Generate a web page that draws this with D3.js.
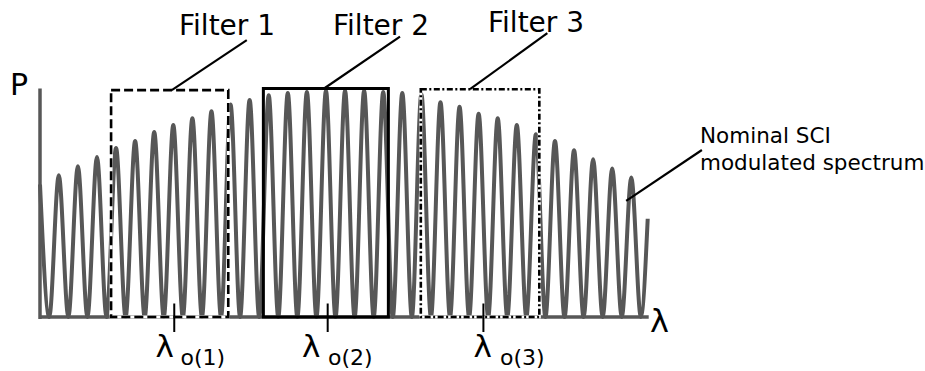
<!DOCTYPE html>
<html>
<head>
<meta charset="utf-8">
<title>Filters on SCI modulated spectrum</title>
<style>
  html, body { margin: 0; background: #fff; }
  svg text { font-family: "DejaVu Sans", Verdana, sans-serif; fill: #000; }
</style>
<script src="https://d3js.org/d3.v7.min.js"></script>
</head>
<body>
<svg id="chart" width="925" height="371"></svg>
<script>
// fringe peaks of the nominal spectrum, P normalised to the axis top, one per fringe
const peakHeights = [0.62, 0.66, 0.70, 0.74, 0.77, 0.81, 0.84, 0.87, 0.90, 0.93, 0.95,
                     0.97, 0.98, 0.985, 0.99, 0.99, 0.99, 0.985, 0.98, 0.975, 0.94,
                     0.92, 0.89, 0.87, 0.84, 0.80, 0.77, 0.73, 0.69, 0.65, 0.61];
const curveStart = [-0.985, 0.58];
const curveEnd = [30.86, 0.43];

// filters (lambda in fringe units)
const filterNames = ["Filter 1", "Filter 2", "Filter 3"];
const filterLeft = [2.74, 10.72, 18.97];
const filterRight = [8.88, 17.27, 25.18];
const filterTop = [0.993, 1.0, 0.997];
const filterCenter = [6.05, 14.09, 22.25];
const centerSubs = ["o(1)", "o(2)", "o(3)"];
// leader lines: [lambda, P] from label to box
const filterLeaders = [
  [[9.85, 1.212], [5.92, 0.993]],
  [[17.88, 1.227], [13.9, 1.0]],
  [[25.6, 1.242], [21.55, 0.997]]
];
const spectrumLeader = [[33.7, 0.731], [29.73, 0.508]];

const svg = d3.select("#chart");
const x = d3.scaleLinear().domain([0, 30]).range([58.8, 631.3]);
const y = d3.scaleLinear().domain([0, 1]).range([317, 88.5]);

// spectrum points: peaks with zero troughs between them
let pts = [curveStart];
peakHeights.forEach(function(h, i) {
  pts.push([i - 0.5, 0]);
  pts.push([i, h]);
});
pts.push([peakHeights.length - 0.5, 0]);
pts.push(curveEnd);

const line = d3.line()
  .x(d => x(d[0]))
  .y(d => y(d[1]))
  .curve(d3.curveMonotoneX);

svg.append("path")
  .datum(pts)
  .attr("d", line)
  .attr("fill", "none")
  .attr("stroke", "#575757")
  .attr("stroke-width", 4);

// axes
svg.append("line")
  .attr("x1", x(curveStart[0])).attr("x2", x(curveStart[0]))
  .attr("y1", y(0) + 2).attr("y2", y(1))
  .attr("stroke", "#575757").attr("stroke-width", 3.5);
svg.append("line")
  .attr("x1", x(curveStart[0])).attr("x2", x(curveEnd[0]) + 1)
  .attr("y1", y(0)).attr("y2", y(0))
  .attr("stroke", "#575757").attr("stroke-width", 3.5);

// filter boxes
const dashes = ["9,4", null, "6,2.5,2,2.5"];
filterNames.forEach(function(name, i) {
  const bx = x(filterLeft[i]), bw = x(filterRight[i]) - x(filterLeft[i]);
  const by = y(filterTop[i]), bh = y(0) - y(filterTop[i]);
  if (dashes[i]) {
    svg.append("rect")
      .attr("x", bx).attr("y", by).attr("width", bw).attr("height", bh)
      .attr("fill", "none").attr("stroke", "#fff").attr("stroke-width", 3);
  }
  svg.append("rect")
    .attr("x", bx).attr("y", by).attr("width", bw).attr("height", bh)
    .attr("fill", "none").attr("stroke", "#000")
    .attr("stroke-width", i === 1 ? 3 : 2.6)
    .attr("stroke-dasharray", dashes[i]);
});

// center wavelength ticks
svg.selectAll(".ctick")
  .data(filterCenter)
  .enter()
  .append("line")
  .attr("x1", d => x(d)).attr("x2", d => x(d))
  .attr("y1", 303.5).attr("y2", 332)
  .attr("stroke", "#000").attr("stroke-width", 2);

// leaders
filterLeaders.concat([spectrumLeader]).forEach(function(l) {
  svg.append("line")
    .attr("x1", x(l[0][0])).attr("y1", y(l[0][1]))
    .attr("x2", x(l[1][0])).attr("y2", y(l[1][1]))
    .attr("stroke", "#000").attr("stroke-width", 2.2);
});

// labels
const filterLabelX = [179, 333, 488];
const filterLabelY = [35, 35, 32];
filterNames.forEach(function(name, i) {
  svg.append("text").attr("x", filterLabelX[i]).attr("y", filterLabelY[i])
    .attr("font-size", "28px").text(name);
});

const lamX = [155.5, 302, 473.5];
const subX = [180.5, 328, 500];
centerSubs.forEach(function(s, i) {
  svg.append("text").attr("x", lamX[i]).attr("y", 357)
    .attr("font-size", "31px").text("λ");
  svg.append("text").attr("x", subX[i]).attr("y", 365)
    .attr("font-size", "22px").text(s);
});

svg.append("text").attr("x", 10).attr("y", 95).attr("font-size", "30px").text("P");
svg.append("text").attr("x", 650).attr("y", 331.5).attr("font-size", "32px").text("λ");

svg.append("text").attr("x", 700).attr("y", 143.3).attr("font-size", "21.5px").text("Nominal SCI");
svg.append("text").attr("x", 700).attr("y", 170).attr("font-size", "21.5px").text("modulated spectrum");
</script>
</body>
</html>
